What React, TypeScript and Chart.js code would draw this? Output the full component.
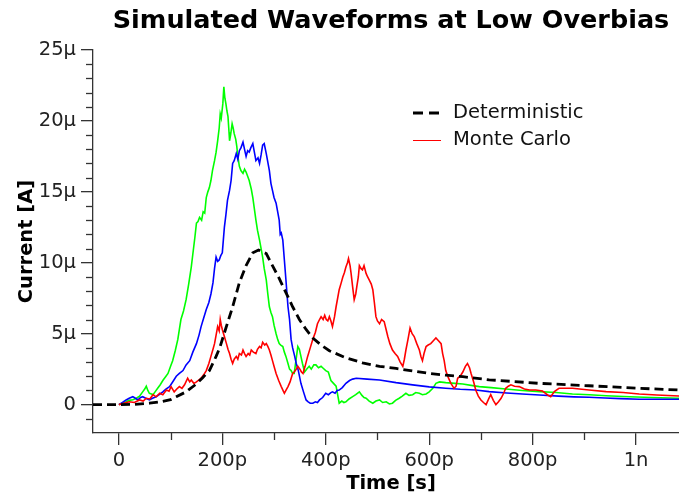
import React, { useEffect, useRef } from "react";
import { Chart, registerables } from "chart.js";

Chart.register(...registerables);

// ---- axis ticks ----
const X_MAJOR = [0, 200, 400, 600, 800, 1000];
const X_LABELS = ["0", "200p", "400p", "600p", "800p", "1n"];
const X_MINOR = [100, 300, 500, 700, 900];
const Y_MAJOR = [0, 5, 10, 15, 20, 25];
const Y_LABELS = ["0", "5μ", "10μ", "15μ", "20μ", "25μ"];
const Y_MINOR = [-1, 1, 2, 3, 4, 6, 7, 8, 9, 11, 12, 13, 14, 16, 17, 18, 19, 21, 22, 23, 24];

// ---- data: time in ps, current in μA ----
const detT = [-50, 0, 30, 59, 80, 100, 111, 130, 150, 162, 175, 188, 195, 207, 220, 233, 246, 259, 270, 285, 297, 310, 323, 336, 349, 362, 375, 391, 407, 439, 471, 504, 536, 568, 600, 632, 665, 716, 813, 909, 1006, 1083];
const detI = [0, 0, 0.02, 0.1, 0.2, 0.35, 0.56, 0.9, 1.46, 1.9, 2.4, 3.4, 4.0, 5.4, 6.9, 8.6, 9.8, 10.7, 10.9, 10.65, 9.8, 8.9, 7.9, 6.9, 6.0, 5.3, 4.7, 4.2, 3.8, 3.3, 2.95, 2.7, 2.55, 2.37, 2.2, 2.08, 1.97, 1.75, 1.5, 1.33, 1.15, 1.03];

const redT = [0, 10, 20, 30, 40, 47, 53, 60, 66, 72, 79, 85, 92, 97, 101, 107, 112, 117, 122, 127, 133, 137, 140, 145, 150, 155, 159, 164, 169, 174, 178, 182, 185, 188, 191, 194, 196, 198, 200, 204, 208, 211, 214, 217, 220, 223, 227, 230, 233, 237, 240, 243, 246, 250, 253, 256, 260, 265, 268, 272, 275, 278, 282, 285, 288, 291, 294, 297, 300, 304, 309, 314, 318, 320, 323, 327, 331, 336, 339, 343, 346, 350, 353, 356, 360, 365, 370, 375, 380, 384, 388, 391, 395, 398, 401, 404, 407, 410, 413, 417, 420, 423, 426, 430, 433, 436, 439, 442, 444, 447, 449, 452, 455, 458, 460, 463, 465, 468, 471, 474, 478, 481, 484, 488, 491, 494, 497, 500, 504, 508, 513, 516, 520, 524, 529, 534, 539, 544, 549, 552, 555, 559, 563, 567, 571, 576, 581, 584, 587, 590, 594, 598, 603, 608, 613, 618, 623, 626, 629, 632, 637, 642, 648, 652, 655, 660, 665, 670, 674, 678, 681, 686, 690, 695, 700, 705, 710, 715, 719, 724, 729, 734, 739, 744, 748, 753, 758, 765, 774, 784, 794, 806, 819, 825, 829, 835, 842, 851, 877, 909, 942, 975, 1006, 1040, 1083];
const redI = [0, 0.1, 0.2, 0.15, 0.33, 0.25, 0.45, 0.4, 0.7, 0.55, 0.8, 0.7, 1.03, 0.95, 1.27, 0.9, 1.1, 1.27, 1.15, 1.4, 1.86, 1.6, 1.74, 1.5, 1.6, 1.75, 1.86, 2.1, 2.4, 2.9, 3.4, 3.9, 4.3, 4.9, 5.5, 5.2, 6.0, 5.6, 5.3, 4.8, 4.3, 3.9, 3.6, 3.2, 2.9, 3.2, 3.4, 3.2, 3.6, 3.5, 3.85, 3.6, 3.4, 3.6, 3.5, 3.85, 3.7, 3.6, 3.9, 4.1, 4.0, 4.4, 4.2, 4.3, 4.1, 3.85, 3.5, 3.1, 2.7, 2.2, 1.7, 1.27, 0.95, 0.8, 1.0, 1.27, 1.6, 2.2, 2.3, 2.5, 2.7, 2.5, 2.3, 2.2, 2.7, 3.4, 4.0, 4.6, 5.1, 5.7, 6.0, 6.2, 6.0, 6.3, 6.0, 5.9, 6.2, 5.9, 5.5, 6.2, 6.9, 7.5, 8.1, 8.6, 9.0, 9.3, 9.7, 10.0, 10.3, 9.8, 9.25, 8.3, 7.4, 7.8, 8.3, 9.0, 9.8, 9.6, 9.5, 9.8, 9.25, 9.0, 8.8, 8.5, 8.1, 7.2, 6.2, 5.9, 5.7, 6.0, 5.85, 5.4, 4.8, 4.3, 3.85, 3.6, 3.4, 3.0, 2.7, 3.2, 3.85, 4.6, 5.4, 5.0, 4.8, 4.3, 3.85, 3.4, 3.1, 3.6, 4.1, 4.2, 4.3, 4.5, 4.7, 4.5, 4.3, 3.6, 3.1, 2.4, 1.9, 1.5, 1.15, 1.3, 1.86, 2.0, 2.3, 2.7, 2.9, 2.6, 2.2, 1.6, 1.03, 0.6, 0.33, 0.15, 0, 0.4, 0.7, 0.3, 0, 0.2, 0.45, 0.8, 1.15, 1.3, 1.4, 1.3, 1.27, 1.1, 1.03, 1.03, 0.96, 0.8, 0.68, 0.56, 0.92, 1.15, 1.15, 1.03, 0.92, 0.85, 0.75, 0.68, 0.61];

const greenT = [0, 7, 14, 20, 27, 34, 40, 46, 50, 53, 56, 59, 63, 66, 70, 75, 80, 85, 90, 95, 100, 104, 109, 114, 117, 120, 125, 130, 135, 140, 143, 147, 150, 153, 156, 160, 163, 166, 169, 172, 175, 178, 181, 185, 188, 191, 194, 196, 198, 201, 203, 205, 207, 209, 211, 213, 214, 216, 219, 221, 223, 226, 228, 230, 233, 236, 240, 243, 246, 249, 252, 256, 259, 262, 265, 268, 272, 275, 278, 281, 285, 288, 291, 294, 297, 300, 304, 307, 310, 313, 317, 320, 323, 327, 330, 333, 336, 339, 342, 346, 349, 352, 355, 359, 363, 368, 372, 377, 381, 386, 391, 394, 400, 405, 410, 415, 420, 423, 426, 431, 435, 439, 445, 452, 458, 465, 470, 474, 478, 484, 491, 497, 504, 510, 517, 523, 529, 535, 542, 548, 555, 561, 568, 574, 581, 587, 594, 600, 607, 613, 620, 632, 650, 665, 684, 697, 720, 748, 780, 813, 845, 877, 910, 942, 987, 1030, 1083];
const greenI = [0, 0.1, 0.2, 0.3, 0.35, 0.45, 0.6, 0.9, 1.1, 1.3, 1.0, 0.8, 0.75, 0.7, 0.9, 1.15, 1.4, 1.7, 1.95, 2.2, 2.7, 3.1, 3.8, 4.6, 5.3, 6.0, 6.6, 7.4, 8.5, 9.7, 10.6, 11.8, 12.8, 12.9, 13.2, 13.0, 13.6, 13.5, 14.6, 15.0, 15.3, 15.8, 16.5, 17.2, 17.8, 18.6, 19.5, 20.5, 20.2, 21.2, 22.4, 21.6, 21.2, 20.7, 20.3, 19.2, 18.6, 19.0, 19.8, 19.5, 19.1, 18.7, 18.2, 17.5, 16.8, 16.5, 16.3, 16.6, 16.4, 16.1, 15.8, 15.2, 14.6, 13.8, 13.0, 12.3, 11.6, 11.0, 10.4, 9.6, 8.8, 7.8, 6.9, 6.5, 6.2, 5.6, 5.0, 4.6, 4.3, 4.2, 4.1, 3.7, 3.4, 2.9, 2.5, 2.4, 2.2, 2.2, 3.0, 4.1, 3.9, 3.4, 2.9, 2.3, 2.5, 2.7, 2.5, 2.8, 2.8, 2.6, 2.7, 2.6, 2.4, 2.3, 1.7, 1.5, 1.3, 0.7, 0.1, 0.25, 0.15, 0.2, 0.4, 0.56, 0.7, 0.9, 0.65, 0.5, 0.45, 0.25, 0.1, 0.25, 0.33, 0.15, 0.2, 0.05, 0.1, 0.3, 0.45, 0.6, 0.8, 0.65, 0.7, 0.85, 0.8, 0.7, 0.75, 0.9, 1.15, 1.5, 1.6, 1.55, 1.5, 1.45, 1.34, 1.27, 1.2, 1.1, 1.0, 0.92, 0.85, 0.75, 0.7, 0.63, 0.56, 0.5, 0.45];

const blueT = [0, 7, 14, 20, 27, 32, 37, 42, 46, 52, 59, 65, 72, 78, 85, 91, 98, 104, 111, 117, 124, 130, 137, 143, 150, 155, 159, 164, 169, 174, 178, 182, 185, 188, 191, 194, 197, 200, 202, 204, 207, 210, 214, 217, 220, 223, 227, 230, 233, 236, 240, 243, 246, 249, 252, 255, 259, 262, 265, 269, 272, 275, 278, 281, 285, 288, 291, 294, 297, 300, 304, 307, 310, 312, 314, 317, 320, 323, 327, 330, 333, 336, 340, 343, 347, 352, 357, 362, 366, 370, 375, 380, 384, 388, 394, 400, 405, 410, 413, 418, 422, 426, 432, 439, 446, 452, 459, 480, 504, 536, 568, 600, 632, 660, 690, 716, 750, 780, 813, 850, 880, 909, 940, 970, 1006, 1083];
const blueI = [0, 0.15, 0.33, 0.45, 0.56, 0.45, 0.33, 0.5, 0.56, 0.45, 0.33, 0.45, 0.56, 0.7, 0.9, 1.1, 1.27, 1.6, 2.0, 2.2, 2.4, 2.8, 3.1, 3.7, 4.3, 4.9, 5.5, 6.1, 6.7, 7.2, 7.8, 8.6, 9.6, 10.4, 10.1, 10.2, 10.5, 10.7, 11.6, 12.5, 13.4, 14.4, 15.1, 15.8, 17.0, 17.2, 17.7, 17.3, 17.9, 18.1, 18.5, 18.0, 17.5, 17.9, 17.8, 18.1, 18.4, 17.8, 17.2, 17.4, 17.0, 17.6, 18.3, 18.4, 17.7, 17.1, 16.5, 15.6, 15.1, 14.6, 14.2, 13.6, 13.0, 12.0, 12.1, 11.6, 10.2, 8.8, 6.9, 6.0, 4.6, 4.0, 3.4, 2.9, 2.4, 1.5, 0.9, 0.33, 0.2, 0.1, 0.1, 0.2, 0.15, 0.33, 0.5, 0.8, 0.7, 0.85, 0.9, 0.8, 1.0, 1.03, 1.2, 1.5, 1.7, 1.8, 1.86, 1.8, 1.74, 1.55, 1.39, 1.25, 1.15, 1.08, 1.03, 0.92, 0.82, 0.75, 0.68, 0.6, 0.55, 0.52, 0.47, 0.42, 0.38, 0.38];

const toPts = (t: number[], v: number[]) => t.map((x, i) => ({ x, y: v[i] }));

const FONT = "'DejaVu Sans', sans-serif";
const AXIS_COLOR = "#333";

const overlayPlugin = {
  id: "overlay",
  afterDraw(chart: any) {
    const ctx = chart.ctx as CanvasRenderingContext2D;
    const xs = chart.scales.x;
    const ys = chart.scales.y;
    const ca = chart.chartArea;
    ctx.save();
    // minor ticks
    ctx.strokeStyle = AXIS_COLOR;
    ctx.lineWidth = 1.3;
    X_MINOR.forEach((v) => {
      const px = Math.round(xs.getPixelForValue(v)) + 0.5;
      ctx.beginPath();
      ctx.moveTo(px, ca.bottom);
      ctx.lineTo(px, ca.bottom + 7);
      ctx.stroke();
    });
    Y_MINOR.forEach((v) => {
      const py = Math.round(ys.getPixelForValue(v)) + 0.5;
      ctx.beginPath();
      ctx.moveTo(ca.left, py);
      ctx.lineTo(ca.left - 7, py);
      ctx.stroke();
    });
    // title
    ctx.fillStyle = "#000";
    ctx.textAlign = "center";
    ctx.textBaseline = "alphabetic";
    ctx.font = `bold 25.5px ${FONT}`;
    ctx.fillText("Simulated Waveforms at Low Overbias", 391, 28);
    // x axis title
    ctx.font = `bold 19.5px ${FONT}`;
    ctx.fillText("Time [s]", 391, 489);
    // y axis title
    ctx.save();
    ctx.translate(31.5, (ca.top + ca.bottom) / 2);
    ctx.rotate(-Math.PI / 2);
    ctx.fillText("Current [A]", 0, 0);
    ctx.restore();
    // legend
    ctx.textAlign = "left";
    ctx.textBaseline = "middle";
    ctx.font = `19.5px ${FONT}`;
    ctx.fillStyle = "#111";
    ctx.strokeStyle = "#000";
    ctx.lineWidth = 2.8;
    ctx.setLineDash([10, 6]);
    ctx.beginPath();
    ctx.moveTo(413, 113);
    ctx.lineTo(441, 113);
    ctx.stroke();
    ctx.setLineDash([]);
    ctx.strokeStyle = "#ff0000";
    ctx.lineWidth = 1;
    ctx.beginPath();
    ctx.moveTo(413, 140.5);
    ctx.lineTo(441, 140.5);
    ctx.stroke();
    ctx.fillText("Deterministic", 453, 113);
    ctx.fillText("Monte Carlo", 453, 140);
    ctx.restore();
  },
};

export default function App() {
  const ref = useRef<HTMLCanvasElement | null>(null);
  useEffect(() => {
    document.body.style.margin = "0";
    const canvas = ref.current;
    if (!canvas) return;
    const tickFont = { family: FONT, size: 19.5 };
    const mcStyle = { showLine: true, borderWidth: 1.6, pointRadius: 0, tension: 0 };
    const chart = new Chart(canvas, {
      type: "scatter",
      data: {
        datasets: [
          {
            label: "Deterministic",
            data: toPts(detT, detI),
            showLine: true,
            borderColor: "#000",
            borderWidth: 2.8,
            borderDash: [9, 5],
            pointRadius: 0,
            tension: 0,
          },
          { label: "Monte Carlo", data: toPts(redT, redI), borderColor: "#ff0000", ...mcStyle },
          { label: "Monte Carlo 2", data: toPts(blueT, blueI), borderColor: "#0000ff", ...mcStyle },
          { label: "Monte Carlo 3", data: toPts(greenT, greenI), borderColor: "#00ff00", ...mcStyle },
        ],
      },
      options: {
        animation: false,
        responsive: false,
        devicePixelRatio: 1,
        layout: { padding: { top: 50, right: 0, bottom: 0, left: 0 } },
        plugins: {
          legend: { display: false },
          title: { display: false },
          tooltip: { enabled: false },
        },
        scales: {
          x: {
            type: "linear",
            min: -50,
            max: 1083,
            afterBuildTicks: (s: any) => {
              s.ticks = X_MAJOR.map((v) => ({ value: v }));
            },
            afterFit: (s: any) => {
              s.height = 60;
            },
            ticks: {
              font: tickFont,
              color: "#222",
              padding: 4,
              maxRotation: 0,
              autoSkip: false,
              callback: (v: any) => {
                const i = X_MAJOR.indexOf(Number(v));
                return i >= 0 ? X_LABELS[i] : "";
              },
            },
            grid: {
              drawOnChartArea: false,
              drawTicks: true,
              tickLength: 12,
              color: AXIS_COLOR,
              lineWidth: 1.3,
            },
            border: { display: true, color: AXIS_COLOR, width: 1.3 },
          },
          y: {
            type: "linear",
            min: -2,
            max: 25,
            afterBuildTicks: (s: any) => {
              s.ticks = Y_MAJOR.map((v) => ({ value: v }));
            },
            afterFit: (s: any) => {
              s.width = 93;
            },
            ticks: {
              font: tickFont,
              color: "#222",
              padding: 5,
              autoSkip: false,
              callback: (v: any) => {
                const i = Y_MAJOR.indexOf(Number(v));
                return i >= 0 ? Y_LABELS[i] : "";
              },
            },
            grid: {
              drawOnChartArea: false,
              drawTicks: true,
              tickLength: 12,
              color: AXIS_COLOR,
              lineWidth: 1.3,
            },
            border: { display: true, color: AXIS_COLOR, width: 1.3 },
          },
        },
      },
      plugins: [overlayPlugin],
    } as any);
    return () => chart.destroy();
  }, []);
  return (
    <div style={{ width: 679, height: 493, background: "#fff" }}>
      <canvas ref={ref} width={679} height={493} style={{ display: "block" }} />
    </div>
  );
}
